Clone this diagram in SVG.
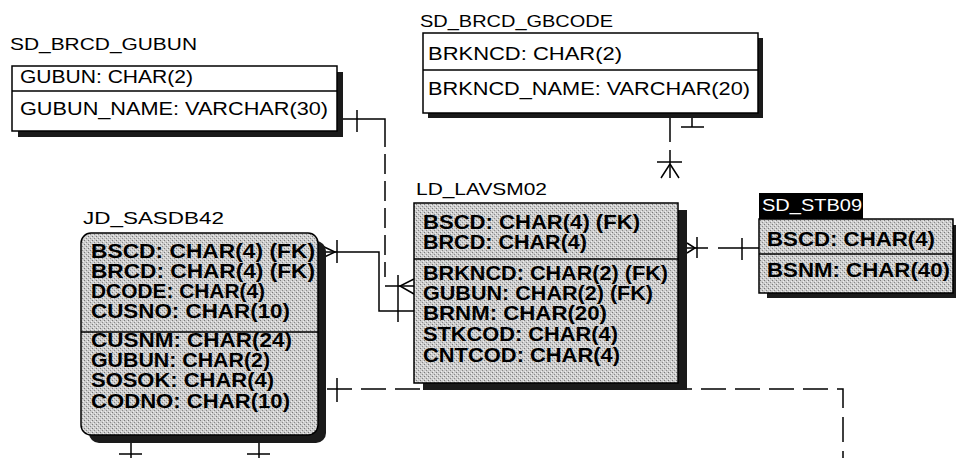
<svg xmlns="http://www.w3.org/2000/svg" width="956" height="458" viewBox="0 0 956 458">
<defs>
<pattern id="stip" width="4" height="4" patternUnits="userSpaceOnUse">
<rect width="4" height="4" fill="#cdcdcd"/>
<rect x="0" y="0" width="1" height="1" fill="#7a7a7a"/>
<rect x="2" y="2" width="1" height="1" fill="#8a8a8a"/>
<rect x="3" y="1" width="1" height="1" fill="#f0f0f0"/>
<rect x="1" y="3" width="1" height="1" fill="#eeeeee"/>
</pattern>
<style>
.ti{font-family:"Liberation Sans",Arial,sans-serif;font-size:17px;fill:#000}
.tr{font-family:"Liberation Sans",Arial,sans-serif;font-size:18.5px;fill:#000}
.tb{font-family:"Liberation Sans",Arial,sans-serif;font-size:19.5px;font-weight:bold;fill:#000}
.box{fill:#fff;stroke:#000;stroke-width:1.5}
.gbox{fill:url(#stip);stroke:#000;stroke-width:1.5}
.sh{fill:#1a1a1a}
.div{stroke:#000;stroke-width:1.5}
.ln{fill:none;stroke:#000;stroke-width:1.5}
.dl{fill:none;stroke:#000;stroke-width:1.5;stroke-dasharray:25 9}
.dv{fill:none;stroke:#000;stroke-width:1.5;stroke-dasharray:20 7}
</style>
</defs>
<rect width="956" height="458" fill="#fff"/>

<g id="connectors">
<path class="ln" d="M343,119 H385 V127"/>
<path class="dv" d="M385,127 V277"/>
<path class="ln" d="M385,286 H414"/>
<path class="ln" d="M357,110 V132"/>
<path class="ln" d="M398,275 V300"/>
<path class="ln" d="M414,279 L400,286 L414,294"/>
<path class="ln" d="M320,252 H379 V311 H414"/>
<path class="ln" d="M320,245 L335,252 L320,259"/>
<path class="ln" d="M337,240 V263"/>
<path class="ln" d="M398,300 V322"/>
<path class="ln" d="M687,248 H708 M718,248 H759"/>
<path class="ln" d="M687,243 L695,248 L687,253"/>
<path class="ln" d="M697,237 V258"/>
<path class="ln" d="M742,238 V260"/>
<path class="dl" d="M327,389 H843 V458"/>
<path class="ln" d="M337,378 V402"/>
<path class="ln" d="M670,117 V142 M670,150 V178"/>
<path class="ln" d="M657,162 H682"/>
<path class="ln" d="M670,164 L661,178 M670,164 L679,178"/>
<path class="ln" d="M692,117 V127 M681,127 H704"/>
<path class="ln" d="M131,443 V458 M119,454 H142"/>
<path class="ln" d="M259,443 V458 M247,454 H270"/>
</g>

<g id="SD_BRCD_GUBUN">
<rect class="sh" x="18" y="72" width="325" height="65"/>
<rect class="box" x="12" y="66" width="325" height="65"/>
<line class="div" x1="12" y1="91" x2="337" y2="91"/>
<text class="ti" x="10" y="50" textLength="187" lengthAdjust="spacingAndGlyphs">SD_BRCD_GUBUN</text>
<text class="tr" x="20" y="83" textLength="173" lengthAdjust="spacingAndGlyphs">GUBUN: CHAR(2)</text>
<text class="tr" x="20" y="115" textLength="308" lengthAdjust="spacingAndGlyphs">GUBUN_NAME: VARCHAR(30)</text>
</g>

<g id="SD_BRCD_GBCODE">
<rect class="sh" x="428" y="38" width="335" height="80"/>
<rect class="box" x="423" y="33" width="335" height="80"/>
<line class="div" x1="423" y1="70" x2="758" y2="70"/>
<text class="ti" x="420" y="27" textLength="193" lengthAdjust="spacingAndGlyphs">SD_BRCD_GBCODE</text>
<text class="tr" x="428" y="60" textLength="194" lengthAdjust="spacingAndGlyphs">BRKNCD: CHAR(2)</text>
<text class="tr" x="428" y="95" textLength="322" lengthAdjust="spacingAndGlyphs">BRKNCD_NAME: VARCHAR(20)</text>
</g>

<g id="JD_SASDB42">
<rect class="sh" x="89" y="241" width="237" height="202" rx="10"/>
<rect class="gbox" x="81" y="233" width="237" height="202" rx="10"/>
<line class="div" x1="81" y1="332" x2="318" y2="332"/>
<text class="ti" x="83" y="224" textLength="141" lengthAdjust="spacingAndGlyphs">JD_SASDB42</text>
<text class="tb" x="91" y="258" textLength="224" lengthAdjust="spacingAndGlyphs">BSCD: CHAR(4) (FK)</text>
<text class="tb" x="91" y="278" textLength="224" lengthAdjust="spacingAndGlyphs">BRCD: CHAR(4) (FK)</text>
<text class="tb" x="91" y="298" textLength="174" lengthAdjust="spacingAndGlyphs">DCODE: CHAR(4)</text>
<text class="tb" x="91" y="318" textLength="199" lengthAdjust="spacingAndGlyphs">CUSNO: CHAR(10)</text>
<text class="tb" x="91" y="347" textLength="201" lengthAdjust="spacingAndGlyphs">CUSNM: CHAR(24)</text>
<text class="tb" x="91" y="367" textLength="179" lengthAdjust="spacingAndGlyphs">GUBUN: CHAR(2)</text>
<text class="tb" x="91" y="387" textLength="183" lengthAdjust="spacingAndGlyphs">SOSOK: CHAR(4)</text>
<text class="tb" x="91" y="408" textLength="199" lengthAdjust="spacingAndGlyphs">CODNO: CHAR(10)</text>
</g>

<g id="LD_LAVSM02">
<rect class="sh" x="423" y="210" width="264" height="180"/>
<rect class="gbox" x="414" y="203" width="264" height="180"/>
<line class="div" x1="414" y1="259" x2="678" y2="259"/>
<text class="ti" x="416" y="195" textLength="131" lengthAdjust="spacingAndGlyphs">LD_LAVSM02</text>
<text class="tb" x="423" y="229" textLength="217" lengthAdjust="spacingAndGlyphs">BSCD: CHAR(4) (FK)</text>
<text class="tb" x="423" y="249" textLength="164" lengthAdjust="spacingAndGlyphs">BRCD: CHAR(4)</text>
<text class="tb" x="423" y="280" textLength="245" lengthAdjust="spacingAndGlyphs">BRKNCD: CHAR(2) (FK)</text>
<text class="tb" x="423" y="300" textLength="230" lengthAdjust="spacingAndGlyphs">GUBUN: CHAR(2) (FK)</text>
<text class="tb" x="423" y="320" textLength="184" lengthAdjust="spacingAndGlyphs">BRNM: CHAR(20)</text>
<text class="tb" x="423" y="341" textLength="195" lengthAdjust="spacingAndGlyphs">STKCOD: CHAR(4)</text>
<text class="tb" x="423" y="362" textLength="197" lengthAdjust="spacingAndGlyphs">CNTCOD: CHAR(4)</text>
</g>

<g id="SD_STB09">
<rect class="sh" x="767" y="225" width="194" height="73"/>
<rect class="gbox" x="759" y="219" width="194" height="74"/>
<line class="div" x1="759" y1="254" x2="953" y2="254"/>
<rect x="759" y="193" width="104" height="26" fill="#000"/>
<text class="ti" x="762" y="211" style="fill:#fff" textLength="100" lengthAdjust="spacingAndGlyphs">SD_STB09</text>
<text class="tb" x="767" y="246" textLength="168" lengthAdjust="spacingAndGlyphs">BSCD: CHAR(4)</text>
<text class="tb" x="767" y="277" textLength="183" lengthAdjust="spacingAndGlyphs">BSNM: CHAR(40)</text>
</g>
</svg>
